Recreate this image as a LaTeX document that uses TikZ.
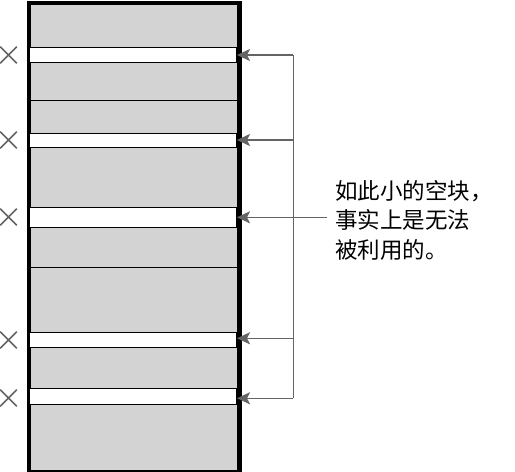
\documentclass[tikz,border=0pt]{standalone}
\usepackage{fontspec}
\newfontfamily\cjk{Noto Sans CJK SC}
\usetikzlibrary{arrows.meta,shapes.misc}
\definecolor{blockgrey}{RGB}{211,211,211}
\definecolor{arrowgrey}{RGB}{100,100,100}
\begin{document}
\begin{tikzpicture}[x=1pt,y=-1pt,
  gapbox/.style={draw=black,line width=1.4pt,fill=white,minimum width=209pt,inner sep=0pt,outer sep=0pt},
  xmark/.style={draw=arrowgrey,line width=1.7pt,cross out,minimum size=15pt,inner sep=0pt},
  pointer/.style={draw=arrowgrey,line width=1.6pt,-{Stealth[length=13pt,width=12pt,inset=3pt]}},
  bracket/.style={draw=arrowgrey,line width=1.6pt}]
\useasboundingbox (0,0) rectangle (515,472);
% memory column
\node[draw=black,line width=3pt,fill=blockgrey,minimum width=209pt,minimum height=468pt,inner sep=0pt,anchor=north west] (mem) at (28,2) {};
\draw[black,line width=1.4pt] (28,100.7) -- (237,100.7);
\draw[black,line width=1.4pt] (28,267.3) -- (237,267.3);
% free gaps
\node[gapbox,minimum height=15pt] (g1) at (132.5,54.8) {};
\node[gapbox,minimum height=14pt] (g2) at (132.5,140.3) {};
\node[gapbox,minimum height=20pt] (g3) at (132.5,217.3) {};
\node[gapbox,minimum height=15pt] (g4) at (132.5,339.8) {};
\node[gapbox,minimum height=16pt] (g5) at (132.5,396.5) {};
% redraw border on top
\draw[black,line width=3pt] (mem.north west) rectangle (mem.south east);
% crosses
\node[xmark] (x1) at (8.5,55) {};
\node[xmark] (x2) at (8.5,140) {};
\node[xmark] (x3) at (8.5,217) {};
\node[xmark] (x4) at (8.5,340) {};
\node[xmark] (x5) at (8.5,398) {};
% bracket
\coordinate (b1) at (293.3,55);
\coordinate (b2) at (293.3,140);
\coordinate (b3) at (293.3,217.3);
\coordinate (b4) at (293.3,338.3);
\coordinate (b5) at (293.3,398.3);
\coordinate (bt) at (327,217.3);
\draw[bracket] (b1) -- (b5);
\draw[pointer] (b1) -- (b1 -| g1.east);
\draw[pointer] (b2) -- (b2 -| g2.east);
\draw[pointer] (bt) -- (bt -| g3.east);
\draw[pointer] (b4) -- (b4 -| g4.east);
\draw[pointer] (b5) -- (b5 -| g5.east);
% label
\node[anchor=west,align=left,inner sep=0pt,font=\cjk\fontsize{22.5}{29.5}\selectfont] (lbl) at (335,220) {如此小的空块，\\事实上是无法\\被利用的。};
\end{tikzpicture}
\end{document}
